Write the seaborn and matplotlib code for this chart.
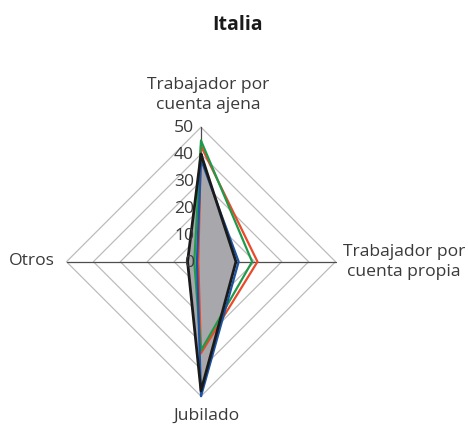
import numpy as np
import pandas as pd
import matplotlib
matplotlib.use("Agg")
import matplotlib.pyplot as plt
import seaborn as sns

# ---- data ----
title = "Italia"
categories = ["Trabajador por\ncuenta ajena", "Trabajador por\ncuenta propia", "Jubilado", "Otros"]
series_names = ["Gris", "Rojo", "Verde", "Azul"]
gris = [40, 13, 48, 5]
rojo = [43, 21, 34, 1]
verde = [45, 19, 33, 2.5]
azul = [38, 14, 50, 1.5]
ticks = [0, 10, 20, 30, 40, 50]
rmax = 50

# ---- style ----
sns.set_theme(style="white")
plt.rcParams["font.family"] = ["Open Sans", "DejaVu Sans"]
TXT = "#3a3a3a"

# angles: top, right, bottom, left
angles = np.deg2rad([90, 0, -90, 180])


def to_xy(vals):
    v = np.asarray(list(vals) + [vals[0]], dtype=float)
    a = np.concatenate([angles, angles[:1]])
    return v * np.cos(a), v * np.sin(a)


fig = plt.figure(figsize=(4.68, 4.27), dpi=100)
ax = fig.add_axes([0, 0, 1, 1])
S = 2.69  # px per unit
cx, cy = 201.0, 262.7
ax.set_xlim(-cx / S, (468 - cx) / S)
ax.set_ylim(-(427 - cy) / S, cy / S)
ax.axis("off")

# grid rings (diamonds)
for r in ticks[1:]:
    gx, gy = to_xy([r] * 4)
    ax.plot(gx, gy, color="#bcbcbc", lw=0.9, zorder=1)
# spokes
for a in angles:
    ax.plot([0, rmax * np.cos(a)], [0, rmax * np.sin(a)], color="#4d4d4d", lw=0.9, zorder=2)

# filled gray series
fx, fy = to_xy(gris)
ax.fill(fx, fy, color="#a8a8ac", zorder=3)

colors = {"Rojo": "#ea4a2a", "Verde": "#1f9a4a", "Azul": "#1c55a6", "Gris": "#1a1a1a"}
for name, vals, lw in [("Rojo", rojo, 1.6), ("Verde", verde, 1.6), ("Azul", azul, 1.6), ("Gris", gris, 2.0)]:
    x, y = to_xy(vals)
    df = pd.DataFrame({"x": x, "y": y})
    sns.lineplot(data=df, x="x", y="y", sort=False, estimator=None, color=colors[name],
                 lw=lw, ax=ax, zorder=5)
ax.set_xlabel("")
ax.set_ylabel("")
ax.axis("off")

# tick labels
for t in ticks:
    ax.text(-2.6, t, str(t), ha="right", va="center", fontsize=12.6, color=TXT, zorder=6)

# category labels
fs = 12.6
ax.text(2.6, 62.4, categories[0], ha="center", va="center", fontsize=fs, color=TXT, linespacing=1.35)
ax.text(75.5, 0.3, categories[1], ha="center", va="center", fontsize=fs, color=TXT, linespacing=1.35)
ax.text(2.1, -57.0, categories[2], ha="center", va="center", fontsize=fs, color=TXT)
ax.text(-54.3, 0.6, categories[3], ha="right", va="center", fontsize=fs, color=TXT)

ax.text(13.6, 88.3, title, ha="center", va="center", fontsize=14, fontweight="bold", color="#1a1a1a")

fig.savefig("out.png", dpi=100)
